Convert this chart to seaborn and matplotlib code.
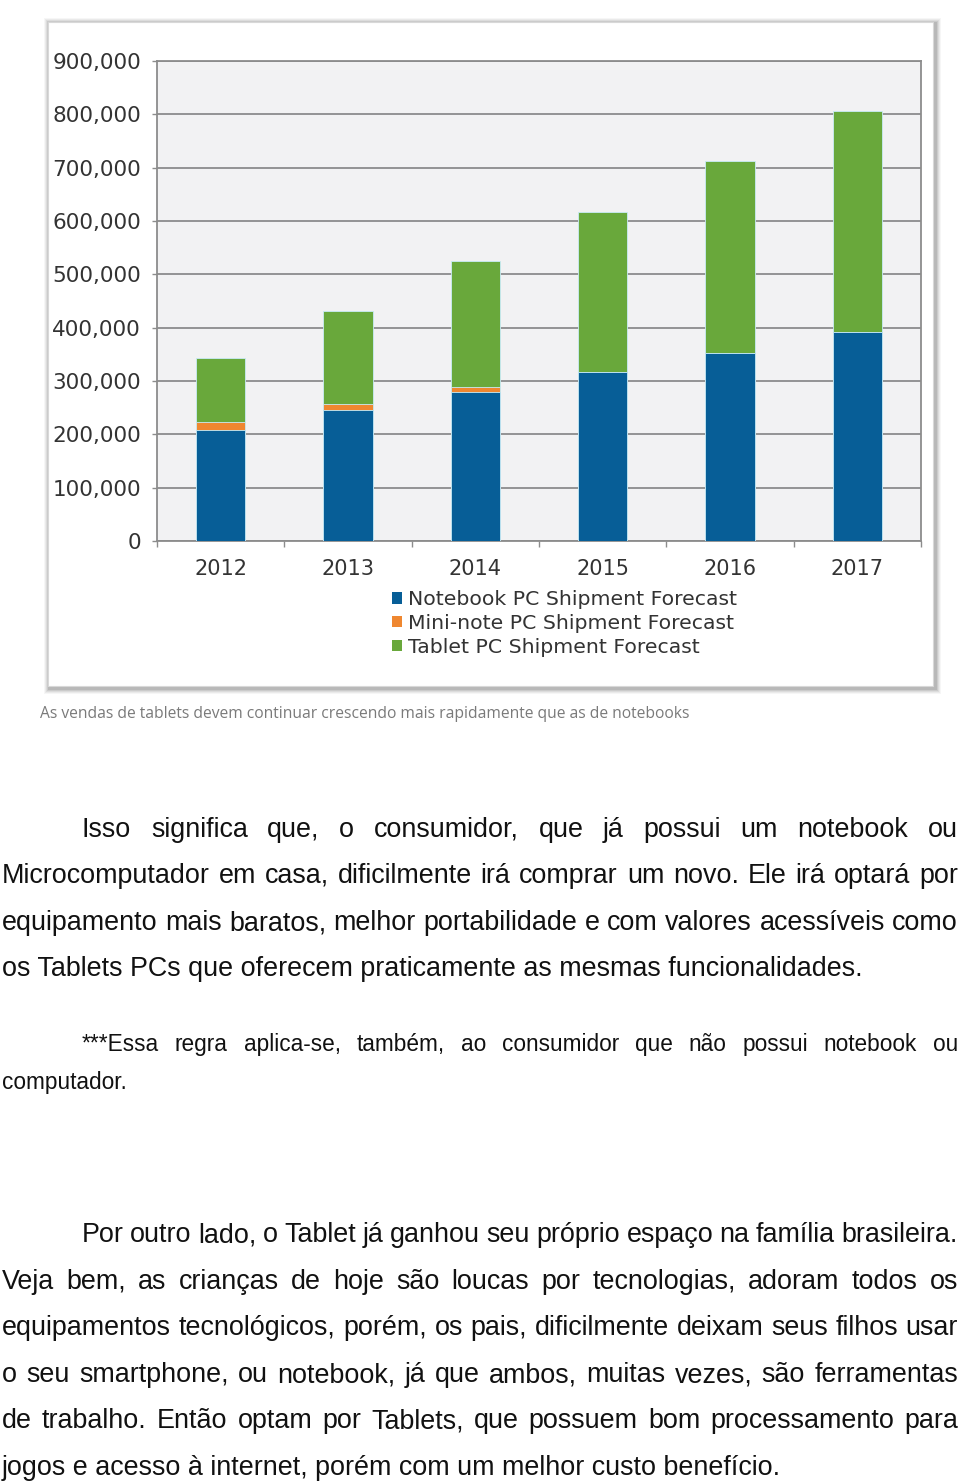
import matplotlib
matplotlib.use("Agg")
import matplotlib.pyplot as plt
from matplotlib.patches import Rectangle, Patch
from matplotlib.font_manager import FontProperties
import seaborn as sns
import numpy as np
import pandas as pd

# ---------------- data ----------------
years = ["2012", "2013", "2014", "2015", "2016", "2017"]
notebook = [208000, 246000, 280000, 316000, 353000, 391000]
mininote = [16000, 11000, 8000, 0, 0, 0]
tablet = [120000, 174000, 237000, 301000, 360000, 416000]
yticks = [0, 100000, 200000, 300000, 400000, 500000, 600000, 700000, 800000, 900000]
legend_labels = ["Notebook PC Shipment Forecast", "Mini-note PC Shipment Forecast",
                 "Tablet PC Shipment Forecast"]
caption = "As vendas de tablets devem continuar crescendo mais rapidamente que as de notebooks"

para1 = [
    "Isso significa que, o consumidor, que já possui um notebook ou",
    "Microcomputador em casa, dificilmente irá comprar um novo. Ele irá optará por",
    "equipamento mais baratos, melhor portabilidade e com valores acessíveis como",
    "os Tablets PCs que oferecem praticamente as mesmas funcionalidades.",
]
note = [
    "***Essa regra aplica-se, também, ao consumidor que não possui notebook ou",
    "computador.",
]
para2 = [
    "Por outro lado, o Tablet já ganhou seu próprio espaço na família brasileira.",
    "Veja bem, as crianças de hoje são loucas por tecnologias, adoram todos os",
    "equipamentos tecnológicos, porém, os pais, dificilmente deixam seus filhos usar",
    "o seu smartphone, ou notebook, já que ambos, muitas vezes, são ferramentas",
    "de trabalho. Então optam por Tablets, que possuem bom processamento para",
    "jogos e acesso à internet, porém com um melhor custo benefício.",
]

BLUE = "#075e97"
ORANGE = "#ef8730"
GREEN = "#69a83b"

W, H = 960, 1483
sns.set_theme(style="white")
plt.rcParams["font.family"] = ["DejaVu Sans"]
fig = plt.figure(figsize=(W / 100, H / 100), dpi=100)
fig.patch.set_facecolor("white")

def fx(x):
    return x / W

def fy(y):
    return 1 - y / H

# ---------------- chart frame with shadow ----------------
fl, ft, fr, fb = 48, 22, 933, 686
for i, a in enumerate([0.05, 0.07, 0.09, 0.12, 0.16]):
    g = 6 - i
    fig.patches.append(Rectangle((fx(fl - g + 2), fy(fb + g + 2)), fx(fr - fl + 2 * g), (fb - ft + 2 * g) / H,
                                 transform=fig.transFigure, facecolor="#555555", alpha=a,
                                 edgecolor="none", zorder=0))
fig.patches.append(Rectangle((fx(fl), fy(fb)), fx(fr - fl), (fb - ft) / H,
                             transform=fig.transFigure, facecolor="white",
                             edgecolor="#d8d8d8", linewidth=0.8, zorder=1))

# ---------------- chart ----------------
pl, pt, pr, pb = 157, 61, 921, 541
ax = fig.add_axes([fx(pl), fy(pb), fx(pr - pl), (pb - pt) / H])
ax.set_zorder(2)
ax.set_facecolor("#f2f2f3")

df = pd.DataFrame({"year": years, "notebook": notebook, "mininote": mininote, "tablet": tablet})
df["nb_mini"] = df["notebook"] + df["mininote"]
df["total"] = df["nb_mini"] + df["tablet"]

bw = 0.39
for col, color in [("total", GREEN), ("nb_mini", ORANGE), ("notebook", BLUE)]:
    sns.barplot(data=df, x="year", y=col, color=color, width=bw, ax=ax,
                edgecolor="#c9ecf7", linewidth=0.6, saturation=1, zorder=3)

ax.set_xlim(-0.5, 5.5)
ax.set_ylim(0, 900000)
ax.set_yticks(yticks)
ax.set_yticklabels([f"{v:,}" for v in yticks])
ax.yaxis.grid(True, color="#8c8c8c", linewidth=1.3, zorder=1)
ax.set_axisbelow(True)
ax.set_xlabel("")
ax.set_ylabel("")
for s in ["left", "right", "top", "bottom"]:
    ax.spines[s].set_visible(True)
    ax.spines[s].set_color("#8c8c8c")
    ax.spines[s].set_linewidth(1.3)
ax.tick_params(axis="y", which="major", left=True, length=3.5, width=1, color="#8c8c8c",
               pad=8, labelsize=15.5, labelcolor="#333333")
ax.tick_params(axis="x", which="major", bottom=False, length=0, pad=13,
               labelsize=15, labelcolor="#333333")
ax.set_xticks(np.arange(-0.5, 6.0, 1.0), minor=True)
ax.tick_params(axis="x", which="minor", bottom=True, length=4, width=1, color="#8c8c8c")

handles = [Patch(facecolor=c, edgecolor="none") for c in (BLUE, ORANGE, GREEN)]
leg = ax.legend(handles, legend_labels, loc="upper left",
                bbox_to_anchor=(fx(392), fy(590)), bbox_transform=fig.transFigure,
                frameon=False, fontsize=14.7, handlelength=0.5, handleheight=0.5,
                handletextpad=0.3, labelspacing=0.24, borderpad=0, borderaxespad=0)
for t in leg.get_texts():
    t.set_color("#333333")

# ---------------- text ----------------
renderer = fig.canvas.get_renderer()

def text_width(s, prop):
    w, h, d = renderer.get_text_width_height_descent(s, prop, ismath=False)
    return w

def fit_size(s, family, target):
    p = FontProperties(family=family, size=10)
    return 10 * target / text_width(s, p)

body_family = "Liberation Sans"
fs_body = 0.5 * (fit_size(para2[-1], body_family, 781) + fit_size(para1[-1], body_family, 866))
fs_note = fit_size(note[-1], body_family, 125)
fs_cap = fit_size(caption, "Open Sans", 648)

fig.text(fx(40), fy(718), caption, fontsize=fs_cap, family="Open Sans", color="#7a7a7a",
         ha="left", va="baseline")

def draw_line(s, x0, x1, ybase, fs, justify, color="#111111"):
    prop = FontProperties(family=body_family, size=fs)
    words = s.split(" ")
    if not justify:
        fig.text(fx(x0), fy(ybase), s, fontproperties=prop, color=color, ha="left", va="baseline")
        return
    widths = [text_width(w, prop) for w in words]
    gap = (x1 - x0 - sum(widths)) / (len(words) - 1)
    x = x0
    for w, wd in zip(words, widths):
        fig.text(fx(x), fy(ybase), w, fontproperties=prop, color=color, ha="left", va="baseline")
        x += wd + gap

def draw_para(lines, baselines, fs):
    n = len(lines)
    for i, (s, yb) in enumerate(zip(lines, baselines)):
        x0 = 82 if i == 0 else 2
        draw_line(s, x0, 958, yb, fs, justify=(i < n - 1))

draw_para(para1, [837, 883, 930, 976], fs_body)
draw_para(note, [1051, 1089], fs_note)
draw_para(para2, [1242, 1289, 1335, 1382, 1428, 1475], fs_body)

fig.savefig("out.png", dpi=100, facecolor="white")
